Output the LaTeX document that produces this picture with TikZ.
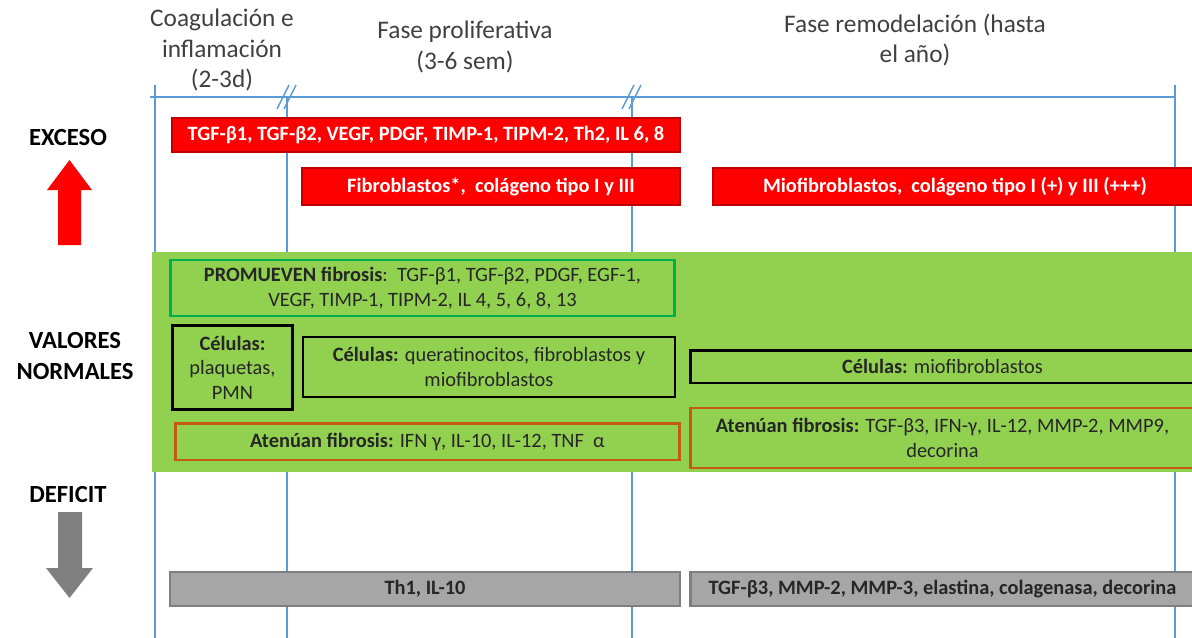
\documentclass[tikz,border=0pt]{standalone}
\usepackage{fontspec}
\setmainfont{Carlito}
\usetikzlibrary{positioning, calc, shadows}
\usepackage{xcolor}

\definecolor{eje}{HTML}{5B9BD5}
\definecolor{rojo}{HTML}{FF0000}
\definecolor{rojoborde}{HTML}{C00000}
\definecolor{verde}{HTML}{92D050}
\definecolor{verdeborde}{HTML}{00B050}
\definecolor{naranja}{HTML}{C55A11}
\definecolor{gris}{HTML}{A6A6A6}
\definecolor{grisborde}{HTML}{7F7F7F}
\definecolor{flechagris}{HTML}{808080}
\definecolor{texto}{HTML}{262626}

\begin{document}
\begin{tikzpicture}[%
    x=0.025cm, y=-0.025cm,
    every node/.style={%
      font=\fontsize{14.5}{17.5}\selectfont,
      text=texto,
      text centered,
      align=center,
      inner sep=1pt
    },
    fase/.style={font=\fontsize{18}{21.5}\selectfont, text=black!75},
    nivel/.style={font=\bfseries\fontsize{17.5}{22.5}\selectfont, text=black},
    exceso/.style={draw=rojoborde, fill=rojo, line width=1.2pt, text=white,
      font=\bfseries\fontsize{14.5}{17.5}\selectfont,
      drop shadow={opacity=0.25, shadow xshift=0.8pt, shadow yshift=-0.8pt}},
    deficit/.style={draw=grisborde, fill=gris, line width=1.6pt,
      font=\bfseries\fontsize{14.5}{17.5}\selectfont,
      drop shadow={opacity=0.25, shadow xshift=0.8pt, shadow yshift=-0.8pt}},
    promueve/.style={draw=verdeborde, line width=2pt},
    celulas/.style={draw=black, line width=2pt},
    atenua/.style={draw=naranja, line width=2pt},
    eje/.style={draw=eje, line width=1pt}
  ]
  \useasboundingbox (0,0) rectangle (1192,638);

  % time axis and phase limits
  \coordinate (a0) at (150,97);
  \coordinate (a1) at (1175,97);
  \draw[eje] (a0) -- (a1);
  \draw[eje] (155,85) -- (155,638);
  \draw[eje] (1175,85) -- (1175,638);
  \draw[eje] (287,97) -- (287,638);
  \draw[eje] (632,97) -- (632,638);
  % breaks in the axis
  \foreach \xb in {287,632} {
    \draw[eje] (\xb-10,109) -- (\xb+2,85);
    \draw[eje] (\xb-3,109) -- (\xb+9,85);
  }

  % phase headers
  \node[fase] (f1) at (222,50) {Coagulación e\\inflamación\\(2-3d)};
  \node[fase] (f2) at (465,47) {Fase proliferativa\\(3-6 sem)};
  \node[fase] (f3) at (915,40) {Fase remodelación (hasta\\el año)};

  % excess row
  \node[nivel] (exc) at (68,138) {EXCESO};
  \draw[fill=rojo, draw=none] (69.5,160) -- (92,190) -- (81,190) -- (81,245)
    -- (58,245) -- (58,190) -- (47,190) -- cycle;

  \node[exceso, minimum width=12.7cm, minimum height=0.85cm] (r1) at (426,135)
    {TGF-β1, TGF-β2, VEGF, PDGF, TIMP-1, TIPM-2, Th2, IL 6, 8};
  \node[exceso, minimum width=9.45cm, minimum height=0.92cm] (r2) at (491,186.5)
    {Fibroblastos*,\ \ colágeno tipo\ I y III};
  \node[exceso, minimum width=12.1cm, minimum height=0.92cm] (r3) at (955,186.5)
    {Miofibroblastos,\ \ colágeno tipo I (+) y III (+++)};

  % normal values band
  \fill[verde] (152,252) rectangle (1195,472);
  \node[nivel] (nor) at (75,356) {VALORES\\NORMALES};

  \node[promueve, minimum width=12.6cm, minimum height=1.4cm] (p1) at (422.5,288)
    {\textbf{PROMUEVEN\ fibrosis}:\ \ TGF-β1, TGF-β2, PDGF, EGF-1,\\
     VEGF, TIMP-1, TIPM-2, IL 4, 5, 6, 8, 13};

  \node[celulas, minimum width=3.0cm, minimum height=2.1cm] (c1) at (232.5,367.5)
    {\textbf{Células:}\\plaquetas,\\PMN};
  \node[celulas, minimum width=9.3cm, minimum height=1.5cm] (c2) at (489,367)
    {\textbf{Células:} queratinocitos, fibroblastos y\\miofibroblastos};
  \node[celulas, minimum width=12.6cm, minimum height=0.82cm] (c3) at (942.5,366.5)
    {\textbf{Células:} miofibroblastos};

  \node[atenua, minimum width=12.6cm, minimum height=0.92cm] (t1) at (427.5,441.5)
    {\textbf{Atenúan\ fibrosis:} IFN γ, IL-10, IL-12, TNF\ \ α};
  \node[atenua, minimum width=12.6cm, minimum height=1.5cm] (t2) at (942.5,438)
    {\textbf{Atenúan\ fibrosis:} TGF-β3, IFN-γ, IL-12, MMP-2, MMP9,\\decorina};

  % deficit row
  \node[nivel] (def) at (68,495) {DEFICIT};
  \draw[fill=flechagris, draw=none] (58,512) -- (82,512) -- (82,568) -- (93,568)
    -- (69.5,598) -- (46,568) -- (58,568) -- cycle;

  \node[deficit, minimum width=12.75cm, minimum height=0.85cm] (g1) at (425,589)
    {Th1, IL-10};
  \node[deficit, minimum width=12.6cm, minimum height=0.85cm] (g2) at (942.5,589)
    {TGF-β3, MMP-2, MMP-3, elastina, colagenasa, decorina};

\end{tikzpicture}
\end{document}
